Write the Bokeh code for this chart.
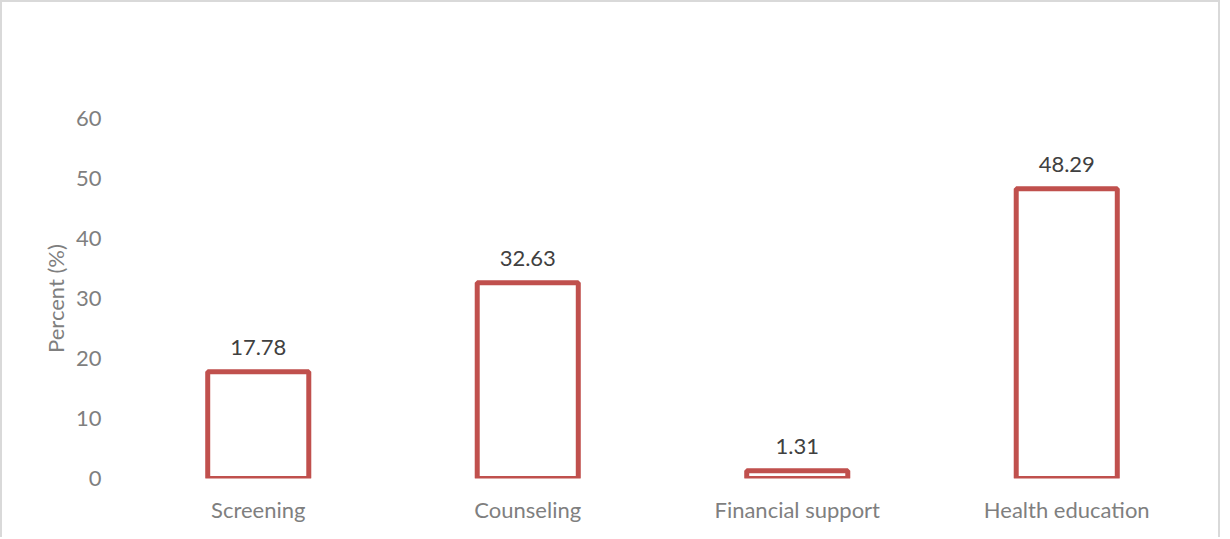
from bokeh.plotting import figure
from bokeh.models import ColumnDataSource, FactorRange, Range1d, FixedTicker
from bokeh.core.properties import value
from bokeh.embed import file_html
from bokeh.resources import INLINE

categories = ["Screening", "Counseling", "Financial support", "Health education"]
percents = [17.78, 32.63, 1.31, 48.29]
labels = ["17.78", "32.63", "1.31", "48.29"]
y_ticks = [0, 10, 20, 30, 40, 50, 60]

FONT = "Lato"
FS = "22px"
src = ColumnDataSource(dict(cat=categories, pct=percents, lab=labels))

p = figure(width=1220, height=537, output_backend="svg", toolbar_location=None,
           x_range=FactorRange(*categories, range_padding=0),
           y_range=Range1d(0, 60),
           min_border_left=121, min_border_right=21, min_border_top=116, min_border_bottom=61)
p.styles = {"border-top": "2px solid #d9d9d9", "border-left": "2px solid #d9d9d9",
            "border-right": "2px solid #d9d9d9"}
p.outline_line_color = None
p.xgrid.visible = False
p.ygrid.visible = False

p.vbar(x="cat", top="pct", bottom=0, width=0.375, source=src,
       fill_color="white", line_color="#c0504d", line_width=5)
p.text(x="cat", y="pct", text="lab", source=src, text_align="center",
       text_baseline="bottom", y_offset=-17, text_font=value(FONT),
       text_font_size=FS, text_color="#404040")

for ax in (p.xaxis[0], p.yaxis[0]):
    ax.axis_line_color = None
    ax.major_tick_line_color = None
    ax.minor_tick_line_color = None
    ax.major_tick_out = 0
    ax.major_tick_in = 0
    ax.major_label_text_font = FONT
    ax.major_label_text_font_size = FS
    ax.major_label_text_color = "#7f7f7f"

p.yaxis[0].ticker = FixedTicker(ticks=y_ticks)
p.yaxis[0].major_label_standoff = 22
p.yaxis[0].axis_label = "Percent (%)"
p.yaxis[0].axis_label_text_font = FONT
p.yaxis[0].axis_label_text_font_size = FS
p.yaxis[0].axis_label_text_font_style = "normal"
p.yaxis[0].axis_label_text_color = "#7f7f7f"
p.yaxis[0].axis_label_standoff = 4
p.xaxis[0].major_label_standoff = 17

open("out.html", "w").write(file_html(p, INLINE))
